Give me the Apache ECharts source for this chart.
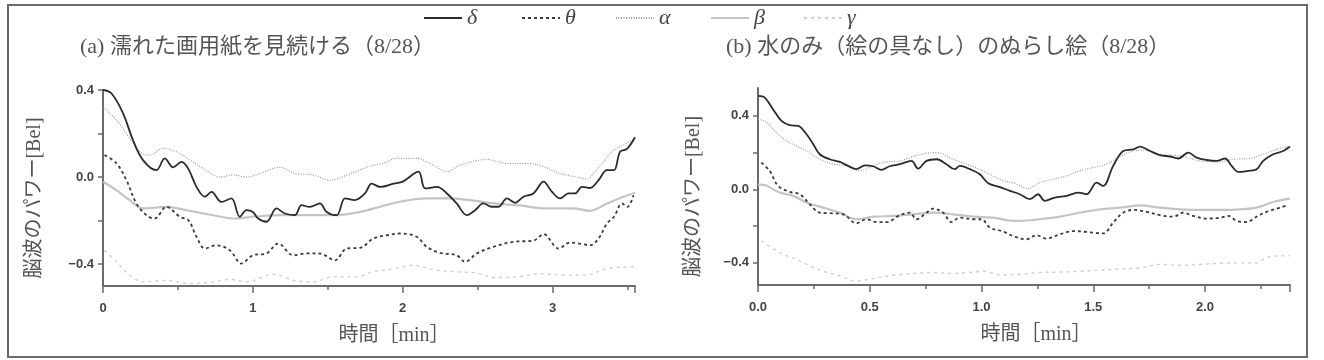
<!DOCTYPE html>
<html>
<head>
<meta charset="utf-8">
<script src="https://cdn.jsdelivr.net/npm/echarts@6/dist/echarts.min.js"></script>
<style>
html,body{margin:0;padding:0;background:#fff;}
#main{width:1324px;height:360px;}
</style>
</head>
<body>
<div id="main"></div>
<script>
// (a) 濡れた画用紙を見続ける  -- [time(min), power(Bel)]
var aDelta = [[0,0.4],[0.056,0.385],[0.134,0.293],[0.2,0.17],[0.267,0.078],[0.357,0.032],[0.412,0.086],[0.468,0.045],[0.524,0.07],[0.568,0.04],[0.624,-0.045],[0.68,-0.09],[0.724,-0.068],[0.79,-0.114],[0.857,-0.098],[0.913,-0.182],[0.958,-0.152],[1.0,-0.16],[1.035,-0.19],[1.09,-0.205],[1.158,-0.144],[1.214,-0.167],[1.28,-0.175],[1.325,-0.129],[1.38,-0.137],[1.448,-0.121],[1.492,-0.16],[1.559,-0.175],[1.615,-0.098],[1.68,-0.106],[1.748,-0.075],[1.793,-0.03],[1.85,-0.045],[1.94,-0.03],[2.0,-0.021],[2.105,0.025],[2.15,-0.052],[2.23,-0.045],[2.295,-0.075],[2.36,-0.121],[2.428,-0.175],[2.483,-0.152],[2.538,-0.121],[2.594,-0.136],[2.64,-0.136],[2.695,-0.098],[2.75,-0.118],[2.806,-0.09],[2.872,-0.075],[2.94,-0.021],[2.995,-0.067],[3.05,-0.098],[3.106,-0.075],[3.15,-0.075],[3.196,-0.045],[3.25,-0.05],[3.307,-0.014],[3.363,0.032],[3.41,0.032],[3.45,0.116],[3.497,0.13],[3.55,0.183]];
var aTheta = [[0.01,0.101],[0.09,0.063],[0.156,-0.014],[0.223,-0.121],[0.29,-0.175],[0.345,-0.19],[0.423,-0.136],[0.512,-0.182],[0.57,-0.198],[0.624,-0.274],[0.68,-0.328],[0.757,-0.313],[0.846,-0.336],[0.924,-0.397],[1.0,-0.359],[1.09,-0.351],[1.169,-0.305],[1.27,-0.359],[1.36,-0.35],[1.448,-0.351],[1.548,-0.382],[1.626,-0.328],[1.715,-0.325],[1.804,-0.282],[1.893,-0.267],[1.98,-0.259],[2.093,-0.274],[2.16,-0.32],[2.25,-0.348],[2.36,-0.359],[2.416,-0.389],[2.494,-0.351],[2.605,-0.32],[2.739,-0.297],[2.872,-0.292],[2.94,-0.262],[3.04,-0.328],[3.117,-0.3],[3.18,-0.305],[3.25,-0.313],[3.307,-0.282],[3.363,-0.213],[3.41,-0.182],[3.463,-0.121],[3.5,-0.137],[3.54,-0.083]];
var aAlpha = [[0,0.323],[0.09,0.262],[0.178,0.178],[0.245,0.116],[0.312,0.101],[0.4,0.132],[0.49,0.116],[0.58,0.078],[0.668,0.04],[0.78,0.0],[0.868,0.01],[0.958,0.0],[1.047,0.017],[1.18,0.045],[1.28,0.017],[1.403,0.01],[1.515,-0.014],[1.63,0.01],[1.78,0.05],[1.87,0.063],[1.96,0.086],[2.093,0.086],[2.205,0.055],[2.295,0.025],[2.383,0.055],[2.56,0.081],[2.695,0.063],[2.83,0.063],[2.94,0.048],[3.05,0.017],[3.162,0.0],[3.23,-0.008],[3.273,0.017],[3.34,0.07],[3.407,0.124],[3.474,0.147],[3.55,0.178]];
var aBeta = [[0,-0.021],[0.09,-0.06],[0.178,-0.106],[0.267,-0.144],[0.423,-0.137],[0.557,-0.152],[0.735,-0.175],[0.868,-0.19],[1.0,-0.182],[1.18,-0.175],[1.36,-0.175],[1.537,-0.175],[1.715,-0.16],[1.85,-0.136],[1.98,-0.113],[2.16,-0.098],[2.295,-0.098],[2.45,-0.106],[2.61,-0.121],[2.78,-0.13],[2.96,-0.144],[3.14,-0.144],[3.25,-0.155],[3.363,-0.121],[3.474,-0.09],[3.55,-0.072]];
var aGamma = [[0.01,-0.336],[0.09,-0.389],[0.178,-0.45],[0.267,-0.481],[0.423,-0.474],[0.58,-0.489],[0.735,-0.481],[0.846,-0.47],[0.958,-0.481],[1.136,-0.446],[1.27,-0.474],[1.403,-0.481],[1.537,-0.458],[1.693,-0.458],[1.8,-0.435],[1.94,-0.42],[2.07,-0.405],[2.2,-0.425],[2.36,-0.435],[2.494,-0.44],[2.605,-0.461],[2.76,-0.458],[2.917,-0.443],[3.07,-0.45],[3.22,-0.45],[3.363,-0.42],[3.497,-0.412],[3.55,-0.41]];

// (b) 水のみ（絵の具なし）のぬらし絵
var bDelta = [[0,0.507],[0.03,0.498],[0.067,0.435],[0.105,0.371],[0.142,0.348],[0.18,0.344],[0.217,0.299],[0.247,0.245],[0.276,0.19],[0.321,0.163],[0.366,0.149],[0.403,0.127],[0.44,0.109],[0.478,0.13],[0.515,0.125],[0.552,0.105],[0.589,0.125],[0.634,0.136],[0.687,0.154],[0.716,0.112],[0.754,0.154],[0.8,0.163],[0.843,0.136],[0.88,0.109],[0.903,0.127],[0.948,0.109],[0.992,0.082],[1.03,0.033],[1.082,0.012],[1.127,-0.009],[1.171,-0.027],[1.216,-0.054],[1.253,-0.027],[1.283,-0.063],[1.328,-0.045],[1.38,-0.036],[1.432,-0.018],[1.47,-0.027],[1.515,0.036],[1.544,0.018],[1.589,0.127],[1.634,0.208],[1.679,0.217],[1.709,0.232],[1.753,0.208],[1.798,0.185],[1.843,0.178],[1.88,0.167],[1.925,0.199],[1.962,0.172],[2.007,0.159],[2.052,0.154],[2.089,0.167],[2.119,0.127],[2.149,0.094],[2.193,0.1],[2.231,0.109],[2.26,0.154],[2.305,0.19],[2.35,0.208],[2.38,0.232]];
var bTheta = [[0.015,0.145],[0.052,0.1],[0.09,0.018],[0.142,-0.014],[0.187,-0.027],[0.232,-0.082],[0.276,-0.127],[0.321,-0.13],[0.381,-0.136],[0.44,-0.185],[0.485,-0.163],[0.53,-0.178],[0.575,-0.178],[0.634,-0.141],[0.679,-0.127],[0.709,-0.163],[0.754,-0.127],[0.783,-0.105],[0.828,-0.127],[0.865,-0.178],[0.903,-0.154],[0.963,-0.163],[1.0,-0.163],[1.037,-0.208],[1.097,-0.23],[1.141,-0.254],[1.2,-0.272],[1.245,-0.25],[1.29,-0.268],[1.35,-0.245],[1.41,-0.227],[1.47,-0.232],[1.544,-0.24],[1.589,-0.181],[1.634,-0.127],[1.679,-0.112],[1.74,-0.123],[1.798,-0.141],[1.858,-0.149],[1.903,-0.127],[1.947,-0.145],[2.007,-0.159],[2.067,-0.154],[2.104,-0.145],[2.141,-0.172],[2.186,-0.178],[2.23,-0.149],[2.275,-0.123],[2.335,-0.1],[2.37,-0.087]];
var bAlpha = [[0,0.38],[0.037,0.366],[0.082,0.308],[0.127,0.263],[0.172,0.235],[0.217,0.208],[0.276,0.163],[0.336,0.136],[0.396,0.127],[0.455,0.1],[0.515,0.127],[0.575,0.149],[0.634,0.154],[0.694,0.178],[0.754,0.196],[0.8,0.199],[0.873,0.163],[0.933,0.136],[0.992,0.109],[1.052,0.072],[1.1,0.045],[1.141,0.036],[1.209,0.004],[1.26,0.036],[1.32,0.054],[1.38,0.072],[1.44,0.1],[1.5,0.118],[1.559,0.136],[1.619,0.178],[1.679,0.208],[1.74,0.213],[1.798,0.19],[1.888,0.181],[1.977,0.154],[2.067,0.149],[2.127,0.163],[2.2,0.167],[2.26,0.19],[2.32,0.217],[2.38,0.235]];
var bBeta = [[0,0.027],[0.037,0.02],[0.097,-0.018],[0.157,-0.036],[0.217,-0.072],[0.291,-0.1],[0.366,-0.127],[0.44,-0.163],[0.515,-0.149],[0.604,-0.145],[0.694,-0.136],[0.783,-0.127],[0.873,-0.136],[0.963,-0.149],[1.052,-0.154],[1.127,-0.17],[1.171,-0.172],[1.26,-0.163],[1.35,-0.149],[1.44,-0.127],[1.53,-0.109],[1.62,-0.1],[1.71,-0.087],[1.798,-0.1],[1.888,-0.109],[1.977,-0.112],[2.067,-0.112],[2.156,-0.109],[2.23,-0.1],[2.305,-0.069],[2.38,-0.051]];
var bGamma = [[0.015,-0.281],[0.097,-0.344],[0.187,-0.39],[0.276,-0.438],[0.366,-0.471],[0.44,-0.498],[0.515,-0.485],[0.604,-0.467],[0.694,-0.457],[0.783,-0.452],[0.873,-0.457],[0.963,-0.45],[1.007,-0.445],[1.082,-0.465],[1.171,-0.462],[1.26,-0.452],[1.35,-0.45],[1.44,-0.445],[1.53,-0.44],[1.62,-0.433],[1.71,-0.427],[1.798,-0.408],[1.888,-0.413],[1.977,-0.408],[2.067,-0.402],[2.156,-0.4],[2.23,-0.4],[2.275,-0.371],[2.335,-0.362],[2.38,-0.362]];

var bandNames = ['δ', 'θ', 'α', 'β', 'γ'];
var leftYTicks = [-0.4, -0.2, 0, 0.2, 0.4];
var leftYLabels = [-0.4, 0, 0.4];
var rightYTicks = [-0.4, -0.2, 0, 0.2, 0.4];
var rightYLabels = [-0.4, 0, 0.4];

var chart = echarts.init(document.getElementById('main'));

var styles = [
	{color: '#2b2b2b', width: 1.8, type: 'solid'},
	{color: '#3a3a3a', width: 1.8, type: [3, 3]},
	{color: '#9a9a9a', width: 1.2, type: [1, 1.5]},
	{color: '#c4c4c4', width: 2.2, type: 'solid'},
	{color: '#cfcfcf', width: 1.4, type: [3, 4]}
];

function mkSeries(name, data, idx, ax){
	var st = styles[idx];
	return {
		name: name,
		type: 'line',
		xAxisIndex: ax,
		yAxisIndex: ax,
		data: data,
		symbol: 'none',
		smooth: 0.35,
		z: 10 - idx,
		lineStyle: {color: st.color, width: st.width, type: st.type},
		itemStyle: {color: st.color}
	};
}

var tickFont = {fontFamily: 'Liberation Sans, Arial, sans-serif', fontSize: 13, color: '#444', fontWeight: 'bold'};
var nameFont = {fontFamily: 'Liberation Serif, Noto Sans CJK JP, serif', fontSize: 20, color: '#555'};
var axisLineStyle = {color: '#6a6a6a', width: 2};

function fmtY(v){
	return v.toFixed(1).replace('-', '\u2212');
}

function yAxisOf(gi, min, max, ticks, labels, gap){
	return {
		type: 'value', gridIndex: gi, min: min, max: max,
		axisLine: {show: true, lineStyle: axisLineStyle},
		axisTick: {show: true, length: 5, customValues: ticks, lineStyle: {color: '#6a6a6a', width: 1.5}},
		axisLabel: Object.assign({customValues: labels, formatter: fmtY, margin: 9}, tickFont),
		splitLine: {show: false},
		name: '脳波のパワー[Bel]',
		nameLocation: 'middle',
		nameGap: gap,
		nameTextStyle: Object.assign({padding: [0, 20, 0, 0]}, nameFont)
	};
}

function xAxisOf(gi, max, interval, dec, shift){
	return {
		type: 'value', gridIndex: gi, min: 0, max: max, interval: interval,
		axisLine: {show: true, onZero: false, lineStyle: axisLineStyle},
		axisTick: {show: true, length: 7, lineStyle: {color: '#6a6a6a', width: 1.5}},
		minorTick: {show: true, splitNumber: 2, length: 4, lineStyle: {color: '#6a6a6a', width: 1.5}},
		axisLabel: Object.assign({margin: 16, showMaxLabel: false, formatter: function(v){ return v.toFixed(dec); }}, tickFont),
		splitLine: {show: false},
		name: '時間［min］',
		nameLocation: 'middle',
		nameGap: 40,
		nameTextStyle: Object.assign({padding: [0, 0, 0, shift]}, nameFont)
	};
}

var titleFont = {fontFamily: 'Liberation Serif, Noto Sans CJK JP, serif', fontSize: 22, fontWeight: 'normal', color: '#555'};

// one legend box per band so each entry sits where the original has it
var legendLeft = [418, 516, 610, 705, 798];
var legends = bandNames.map(function(n, i){
	return {
		data: [n],
		left: legendLeft[i],
		top: 2,
		itemWidth: 38,
		itemHeight: 14,
		itemStyle: {opacity: 0},
		textStyle: {fontFamily: 'Liberation Serif, DejaVu Serif, serif', fontStyle: 'italic', fontSize: 22, color: '#444'}
	};
});

var option = {
	backgroundColor: '#fff',
	animation: false,
	title: [
		{text: '(a) 濡れた画用紙を見続ける（8/28）', left: 75, top: 31, textStyle: titleFont},
		{text: '(b) 水のみ（絵の具なし）のぬらし絵（8/28）', left: 721, top: 31, textStyle: titleFont}
	],
	legend: legends,
	grid: [
		{left: 103, top: 90, width: 532, height: 196},
		{left: 758, top: 88, width: 532, height: 197}
	],
	xAxis: [
		xAxisOf(0, 3.55, 1, 0, 50),
		xAxisOf(1, 2.38, 0.5, 1, 24)
	],
	yAxis: [
		yAxisOf(0, -0.5, 0.4, leftYTicks, leftYLabels, 58),
		yAxisOf(1, -0.52, 0.55, rightYTicks, rightYLabels, 54)
	],
	series: [
		mkSeries('δ', aDelta, 0, 0), mkSeries('θ', aTheta, 1, 0), mkSeries('α', aAlpha, 2, 0), mkSeries('β', aBeta, 3, 0), mkSeries('γ', aGamma, 4, 0),
		mkSeries('δ', bDelta, 0, 1), mkSeries('θ', bTheta, 1, 1), mkSeries('α', bAlpha, 2, 1), mkSeries('β', bBeta, 3, 1), mkSeries('γ', bGamma, 4, 1)
	],
	graphic: [{
		type: 'rect',
		shape: {x: 8, y: 5, width: 1299, height: 352},
		style: {fill: 'none', stroke: '#6a6a6a', lineWidth: 2},
		silent: true
	}]
};

chart.setOption(option);
</script>
</body>
</html>
